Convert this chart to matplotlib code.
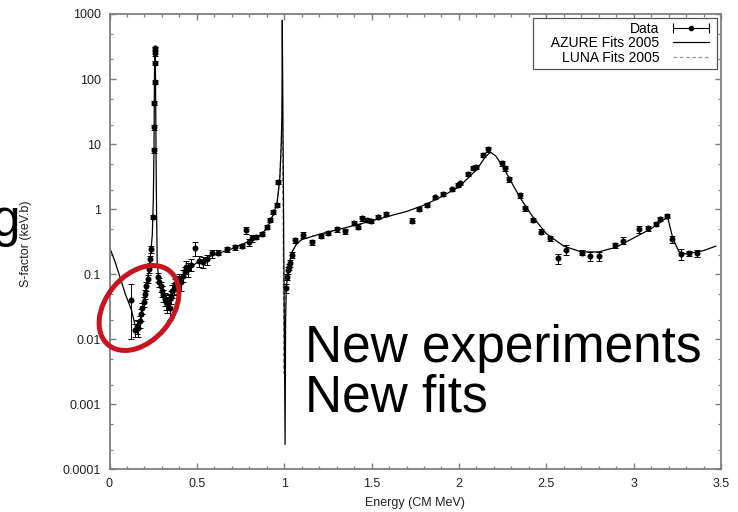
import matplotlib
matplotlib.use("Agg")
import matplotlib.pyplot as plt
from matplotlib.lines import Line2D
from matplotlib.legend_handler import HandlerLine2D
from matplotlib.patches import Ellipse
from matplotlib.ticker import LogLocator, MultipleLocator, NullFormatter

plt.rcParams["font.family"] = ["Liberation Sans", "DejaVu Sans"]

W, H, DPI = 738, 512, 100

# measured S-factor points (E in MeV CM, S in keV.b, absolute 1-sigma error)
data_E = [0.123, 0.145, 0.155, 0.165, 0.172, 0.180, 0.188, 0.195, 0.203, 0.210,
          0.218, 0.226, 0.233, 0.240, 0.250, 0.255, 0.256, 0.257, 0.258, 0.259,
          0.260, 0.261, 0.278, 0.285, 0.292, 0.300, 0.308, 0.315, 0.322, 0.330,
          0.338, 0.345, 0.352, 0.360, 0.368, 0.376, 0.385, 0.393, 0.400, 0.410,
          0.420, 0.430, 0.440, 0.450, 0.465, 0.489, 0.510, 0.537, 0.560, 0.585,
          0.622, 0.670, 0.718, 0.756, 0.781, 0.800, 0.813, 0.840, 0.871, 0.900,
          0.918, 0.937, 0.956, 0.966,
          1.013, 1.018, 1.023, 1.028, 1.033, 1.042, 1.061, 1.109, 1.157, 1.208,
          1.252, 1.303, 1.347, 1.399, 1.420, 1.443, 1.475, 1.494, 1.538, 1.582,
          1.729, 1.772, 1.815, 1.862, 1.910, 1.958, 1.995, 2.005, 2.053, 2.081,
          2.100, 2.138, 2.167, 2.244, 2.263, 2.287, 2.352, 2.377, 2.425, 2.472,
          2.520, 2.568, 2.610, 2.707, 2.753, 2.800, 2.892, 2.939, 3.031, 3.082,
          3.127, 3.153, 3.193, 3.222, 3.270, 3.315, 3.360]
data_S = [0.040, 0.014, 0.016, 0.015, 0.019, 0.024, 0.030, 0.038, 0.050, 0.065,
          0.085, 0.12, 0.17, 0.24, 0.76, 8.0, 18, 43, 90, 175,
          250, 295, 0.090, 0.075, 0.065, 0.055, 0.048, 0.042, 0.038, 0.035,
          0.040, 0.030, 0.045, 0.055, 0.060, 0.070, 0.065, 0.080, 0.085, 0.075,
          0.095, 0.11, 0.13, 0.12, 0.14, 0.25, 0.16, 0.156, 0.17, 0.209,
          0.214, 0.241, 0.259, 0.271, 0.478, 0.31, 0.356, 0.377, 0.42, 0.537,
          0.68, 0.91, 1.16, 2.64,
          0.061, 0.090, 0.116, 0.13, 0.147, 0.197, 0.33, 0.40, 0.31, 0.386,
          0.425, 0.49, 0.461, 0.618, 0.537, 0.72, 0.68, 0.664, 0.765, 0.842,
          0.664, 1.0, 1.16, 1.52, 1.71, 2.02, 2.35, 2.5, 3.47, 4.25,
          4.5, 6.8, 8.3, 5.07, 4.25, 2.87, 1.65, 1.03, 0.68, 0.45,
          0.356, 0.175, 0.236, 0.214, 0.192, 0.192, 0.28, 0.327, 0.49, 0.507,
          0.59, 0.697, 0.783, 0.343, 0.204, 0.209, 0.209]
data_err = [0.030, 0.003, 0.004, 0.004, 0.004, 0.005, 0.006, 0.007, 0.008, 0.010,
            0.012, 0.015, 0.02, 0.03, 0.06, 0.6, 1.5, 3, 6, 12,
            20, 20, 0.015, 0.012, 0.012, 0.010, 0.010, 0.010, 0.010, 0.010,
            0.010, 0.010, 0.010, 0.012, 0.012, 0.015, 0.015, 0.015, 0.015, 0.02,
            0.02, 0.02, 0.03, 0.03, 0.03, 0.06, 0.03, 0.03, 0.03, 0.03,
            0.02, 0.02, 0.02, 0.02, 0.06, 0.04, 0.04, 0.03, 0.03, 0.04,
            0.05, 0.06, 0.08, 0.2,
            0.01, 0.01, 0.015, 0.015, 0.02, 0.02, 0.03, 0.04, 0.03, 0.03,
            0.03, 0.04, 0.04, 0.05, 0.05, 0.06, 0.05, 0.05, 0.06, 0.06,
            0.06, 0.08, 0.08, 0.1, 0.1, 0.12, 0.15, 0.15, 0.25, 0.3,
            0.3, 0.5, 0.8, 0.4, 0.35, 0.25, 0.15, 0.08, 0.05, 0.04,
            0.03, 0.03, 0.04, 0.02, 0.03, 0.03, 0.025, 0.04, 0.06, 0.04,
            0.04, 0.05, 0.06, 0.04, 0.04, 0.02, 0.025]

# AZURE R-matrix fit
azure_E = [0.0, 0.03, 0.06, 0.09, 0.126, 0.145, 0.159, 0.18, 0.20, 0.22,
           0.235, 0.245, 0.251, 0.255, 0.257, 0.259, 0.262, 0.268, 0.273, 0.28,
           0.30, 0.33, 0.36, 0.38, 0.40, 0.45, 0.50, 0.55, 0.60, 0.70,
           0.80, 0.85, 0.90, 0.94, 0.96, 0.975, 0.983, 0.987, 0.989, 1.005,
           1.008, 1.012, 1.02, 1.03, 1.045, 1.07, 1.10, 1.20, 1.30, 1.40,
           1.50, 1.60, 1.70, 1.80, 1.90, 2.00, 2.10, 2.15, 2.18, 2.21,
           2.25, 2.30, 2.35, 2.42, 2.50, 2.60, 2.70, 2.80, 2.90, 3.00,
           3.10, 3.17, 3.195, 3.225, 3.26, 3.30, 3.40, 3.47]
azure_S = [0.26, 0.16, 0.09, 0.05, 0.028, 0.017, 0.0151, 0.022, 0.045, 0.09,
           0.2, 0.4, 1.5, 10, 80, 320, 300, 2, 0.15, 0.095,
           0.06, 0.042, 0.048, 0.06, 0.08, 0.12, 0.15, 0.175, 0.2, 0.245,
           0.32, 0.37, 0.5, 0.85, 1.3, 3, 10, 30, 800, 0.00024,
           0.02, 0.06, 0.1, 0.15, 0.22, 0.29, 0.34, 0.41, 0.48, 0.56,
           0.66, 0.78, 0.92, 1.15, 1.55, 2.2, 4.0, 6.3, 7.5, 6.6,
           4.6, 2.6, 1.5, 0.78, 0.42, 0.27, 0.22, 0.22, 0.26, 0.36,
           0.5, 0.68, 0.74, 0.35, 0.22, 0.205, 0.23, 0.27]

# LUNA fit around the 1 MeV resonance
luna_E = [0.80, 0.85, 0.90, 0.94, 0.96, 0.975, 0.983, 0.987, 0.989, 0.992,
          0.996, 0.999, 1.002, 1.006, 1.010, 1.02, 1.03, 1.045, 1.07, 1.10,
          1.20, 1.30]
luna_S = [0.32, 0.37, 0.5, 0.85, 1.3, 3, 10, 30, 48, 3,
          0.05, 0.003, 0.01, 0.05, 0.08, 0.11, 0.15, 0.22, 0.29, 0.34,
          0.41, 0.48]

x_ticks = [0, 0.5, 1, 1.5, 2, 2.5, 3, 3.5]
x_labels = ["0", "0.5", "1", "1.5", "2", "2.5", "3", "3.5"]
y_ticks = [1e-4, 1e-3, 1e-2, 1e-1, 1, 10, 100, 1000]
y_labels = ["0.0001", "0.001", "0.01", "0.1", "1", "10", "100", "1000"]
legend_labels = ["Data", "    AZURE Fits 2005", "LUNA Fits 2005"]


def px(x, y):
    return x / W, 1 - y / H


fig = plt.figure(figsize=(W / DPI, H / DPI), dpi=DPI)
ax = fig.add_axes([109.5 / W, 1 - 469.3 / H, (721 - 109.5) / W, (469.3 - 14) / H])
ax.set_yscale("log")
ax.set_xlim(0, 3.5)
ax.set_ylim(1e-4, 1e3)

ax.plot(luna_E, luna_S, color="#8c8c8c", lw=0.9, dashes=(3, 2), zorder=2)
ax.plot(azure_E, azure_S, color="k", lw=0.9, zorder=2)
ax.errorbar(data_E, data_S, yerr=data_err, fmt="o", color="k", ms=3.3,
            elinewidth=0.7, capsize=2.5, capthick=0.7, zorder=3)

ax.set_xticks(x_ticks)
ax.set_xticklabels(x_labels)
ax.set_yticks(y_ticks)
ax.set_yticklabels(y_labels)
ax.xaxis.set_minor_locator(MultipleLocator(0.1))
ax.yaxis.set_minor_locator(LogLocator(base=10, subs=(2, 5)))
ax.yaxis.set_minor_formatter(NullFormatter())
ax.tick_params(which="both", direction="in", top=True, right=True,
               color="#7f7f7f", labelsize=9, labelcolor="#222222")
ax.tick_params(which="major", length=4, width=1.0, pad=6)
ax.tick_params(which="minor", length=2.2, width=0.9)
for s in ax.spines.values():
    s.set_color("#7f7f7f")
    s.set_linewidth(1.3)

# gnuplot-style key: label on the left, sample on the right
h_bar = Line2D([], [], color="k", lw=0.8, marker="|", ms=7, mew=0.8)
h_dot = Line2D([], [], color="k", ls="none", marker="o", ms=3)
h_azure = Line2D([], [], color="k", lw=0.9)
h_luna = Line2D([], [], color="#999999", lw=0.9, dashes=(3, 2))
leg = ax.legend([(h_bar, h_dot), h_azure, h_luna], legend_labels,
                loc="upper right", markerfirst=False, numpoints=2,
                handler_map={h_dot: HandlerLine2D(numpoints=1)},
                fancybox=False, edgecolor="#555555", framealpha=1,
                fontsize=10, handlelength=3.2, handletextpad=0.7,
                borderpad=0.25, labelspacing=0.05, borderaxespad=0.3)
leg.get_frame().set_linewidth(0.9)

fig.text(*px(26, 244), "S-factor (keV.b)", rotation=90, ha="center", va="center",
         fontsize=9, color="#222222")
fig.text(*px(415, 503), "Energy (CM MeV)", ha="center", va="center",
         fontsize=9, color="#222222")

fig.text(*px(305, 362), "New experiments", ha="left", va="baseline", fontsize=37)
fig.text(*px(305, 411), "New fits", ha="left", va="baseline", fontsize=37)
fig.text(*px(21, 236), "g", ha="right", va="baseline", fontsize=37)

ring = Ellipse((139 / DPI, (H - 308) / DPI), 96 / DPI, 66 / DPI, angle=50,
               transform=fig.dpi_scale_trans, fill=False, ec="#c8141e", lw=3.6,
               zorder=10)
fig.add_artist(ring)

fig.savefig("out.png", dpi=DPI)
